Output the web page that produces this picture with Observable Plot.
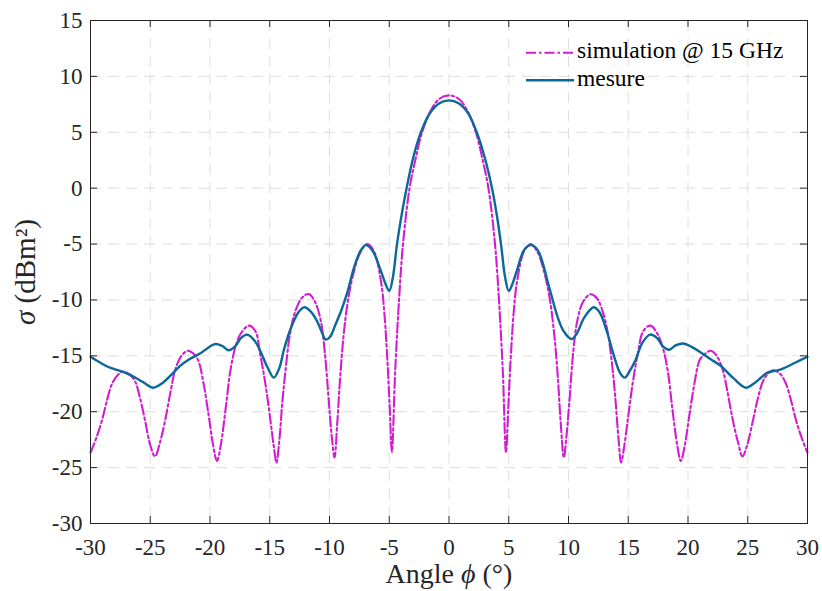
<!DOCTYPE html>
<html>
<head>
<meta charset="utf-8">
<script src="https://cdn.jsdelivr.net/npm/d3@7"></script>
<script src="https://cdn.jsdelivr.net/npm/@observablehq/plot@0.6"></script>
<style>
  html, body { margin: 0; padding: 0; background: #fff; }
  #wrap { position: relative; width: 822px; height: 591px; }
  #legend { position: absolute; left: 0; top: 0; pointer-events: none; }
</style>
</head>
<body>
<div id="wrap"></div>
<script>
// ---- data ----
const xTicks = [-30, -25, -20, -15, -10, -5, 0, 5, 10, 15, 20, 25, 30];
const yTicks = [-30, -25, -20, -15, -10, -5, 0, 5, 10, 15];

const seriesNames = ["simulation @ 15 GHz", "mesure"];

const simAngle = [-30,-29.5,-29.05,-28.6,-28.2,-27.7,-27.25,-26.7,-26.26,-25.85,-25.43,-25.0,-24.6,-24.2,-23.76,-23.3,-22.92,-22.4,-21.85,-21.3,-20.97,-20.55,-20.13,-19.75,-19.42,-19.1,-18.7,-18.29,-17.9,-17.45,-16.75,-16.2,-15.8,-15.35,-14.94,-14.65,-14.44,-14.2,-13.95,-13.68,-13.3,-12.85,-12.3,-11.73,-11.2,-10.73,-10.4,-10.04,-9.8,-9.58,-9.35,-9.1,-8.78,-8.4,-7.94,-7.4,-6.85,-6.3,-5.7,-5.4,-5.14,-4.95,-4.78,-4.5,-4.17,-3.85,-3.3,-2.8,-2.25,-1.5,-0.8,0,
  0.8,1.5,2.25,2.8,3.3,3.85,4.17,4.5,4.77,4.95,5.14,5.4,5.7,6.3,6.85,7.4,7.94,8.4,8.78,9.1,9.35,9.61,9.82,10.06,10.4,10.73,11.2,11.81,12.35,12.85,13.3,13.7,13.95,14.2,14.4,14.65,14.95,15.35,15.8,16.25,16.85,17.45,17.9,18.3,18.7,19.1,19.4,19.75,20.13,20.55,20.97,21.4,21.9,22.4,22.92,23.3,23.76,24.2,24.55,24.95,25.43,25.85,26.3,26.7,27.1,27.7,28.2,28.6,29.05,29.5,30];
const simValue = [-23.65,-22.3,-20.8,-18.9,-17.5,-16.7,-16.4,-16.7,-17.3,-18.8,-20.8,-23.0,-24.0,-22.8,-20.8,-18.2,-16.3,-15.0,-14.55,-14.9,-15.44,-17.4,-20.2,-22.9,-24.4,-23.0,-19.8,-16.3,-14.3,-13.05,-12.3,-12.8,-14.84,-17.6,-20.8,-23.2,-24.55,-22.6,-19.2,-16.3,-13.0,-10.97,-9.8,-9.47,-10.2,-11.86,-14.6,-19.3,-22.3,-24.1,-21.0,-16.8,-12.75,-9.7,-7.38,-5.7,-5.0,-5.6,-8.28,-11.3,-15.7,-19.9,-23.6,-16.3,-9.8,-5.0,0,2.6,5.0,7.0,8.0,8.3,
  8.0,7.0,5.0,2.6,0,-5.0,-9.8,-16.3,-23.65,-19.9,-15.7,-11.3,-8.3,-5.6,-5.0,-5.7,-7.4,-9.7,-12.8,-16.8,-21.0,-24.1,-22.3,-19.3,-14.6,-11.9,-10.2,-9.5,-9.8,-11.0,-13.0,-16.3,-19.2,-22.6,-24.55,-23.2,-20.8,-17.6,-14.8,-12.8,-12.3,-13.05,-14.3,-16.3,-19.8,-23.0,-24.4,-22.9,-20.2,-17.4,-15.4,-14.85,-14.55,-15.0,-16.3,-18.2,-20.8,-22.8,-24.0,-23.0,-20.8,-18.8,-17.2,-16.6,-16.3,-16.6,-17.5,-18.9,-20.8,-22.3,-23.65];

const mesAngle = [-30,-29.2,-28.5,-27.4,-26.6,-25.6,-24.75,-24.0,-23.2,-22.5,-21.8,-20.7,-19.6,-19.0,-18.45,-17.9,-17.4,-16.9,-16.3,-15.8,-15.2,-14.66,-14.2,-13.8,-13.26,-12.6,-12.1,-11.6,-11.04,-10.6,-10.3,-9.95,-9.5,-9.0,-8.5,-7.95,-7.4,-6.96,-6.4,-5.7,-5.3,-5.0,-4.7,-4.35,-3.95,-3.55,-3.0,-2.35,-1.6,-0.8,0,
  0.8,1.6,2.32,3.0,3.6,4.0,4.35,4.7,5.0,5.3,5.7,6.3,6.85,7.4,7.9,8.24,8.6,9.08,9.6,10.25,10.7,11.3,12.1,12.6,13.26,13.8,14.3,14.71,15.1,15.6,16.2,16.83,17.4,17.9,18.42,19.0,19.62,20.3,21.07,21.9,22.74,23.8,24.83,25.6,26.65,27.5,28.04,29.0,30];
const mesValue = [-15.08,-15.6,-16.0,-16.4,-16.75,-17.35,-17.85,-17.45,-16.65,-15.9,-15.35,-14.7,-13.95,-14.1,-14.5,-14.15,-13.4,-13.1,-13.6,-14.55,-16.0,-16.95,-16.1,-14.4,-12.6,-11.1,-10.65,-11.0,-11.9,-13.0,-13.55,-13.3,-12.2,-10.9,-9.3,-7.1,-5.6,-5.1,-5.6,-7.4,-8.6,-9.2,-8.0,-5.0,-2.3,0,2.7,5.0,6.7,7.6,7.85,
  7.6,6.7,5.0,2.7,0,-2.4,-5.0,-8.0,-9.2,-8.6,-7.3,-5.5,-5.1,-5.5,-6.9,-8.3,-9.7,-11.5,-12.8,-13.5,-13.0,-11.6,-10.65,-11.1,-13.0,-15.0,-16.5,-16.95,-16.4,-15.4,-13.8,-13.1,-13.4,-14.15,-14.45,-14.05,-13.9,-14.2,-14.7,-15.3,-15.9,-17.0,-17.85,-17.4,-16.5,-16.3,-16.1,-15.6,-15.08];

// ---- tables built from the arrays ----
const sim = simAngle.map((a, i) => ({angle: a, value: simValue[i]}));
const mes = mesAngle.map((a, i) => ({angle: a, value: mesValue[i]}));

const W = 822, H = 591;
const mL = 90, mR = 15, mT = 20, mB = 68;
const plotW = W - mL - mR, plotH = H - mT - mB;
const tickLen = 7;
const axisColor = "#262626";
const gridColor = "#dedede";
const simColor = "#d21cd2";
const mesColor = "#0b6898";
const simDash = "10,3,2.5,3";
const serif = "'Liberation Serif', 'DejaVu Serif', serif";

const chart = Plot.plot({
  width: W,
  height: H,
  marginLeft: mL,
  marginRight: mR,
  marginTop: mT,
  marginBottom: mB,
  style: {fontFamily: serif, fontSize: "23px", color: axisColor, background: "#fff", overflow: "visible"},
  x: {domain: [-30, 30], label: null},
  y: {domain: [-30, 15], label: null},
  marks: [
    Plot.gridX(xTicks, {stroke: gridColor, strokeOpacity: 1, strokeWidth: 1, strokeDasharray: "11,7"}),
    Plot.gridY(yTicks, {stroke: gridColor, strokeOpacity: 1, strokeWidth: 1, strokeDasharray: "11,7"}),
    Plot.line(sim, {x: "angle", y: "value", stroke: simColor, strokeWidth: 2.1, strokeDasharray: simDash, curve: "catmull-rom"}),
    Plot.line(mes, {x: "angle", y: "value", stroke: mesColor, strokeWidth: 2.4, curve: "catmull-rom"}),
    // inward ticks on all four sides
    Plot.tickX(xTicks, {x: d => d, stroke: axisColor, insetTop: plotH - tickLen}),
    Plot.tickX(xTicks, {x: d => d, stroke: axisColor, insetBottom: plotH - tickLen}),
    Plot.tickY(yTicks, {y: d => d, stroke: axisColor, insetRight: plotW - tickLen}),
    Plot.tickY(yTicks, {y: d => d, stroke: axisColor, insetLeft: plotW - tickLen}),
    Plot.frame({stroke: axisColor, strokeWidth: 1}),
    Plot.axisX(xTicks, {tickSize: 0, tickPadding: 15, label: null, tickFormat: d => String(d), fill: axisColor, fontSize: 23}),
    Plot.axisY(yTicks, {tickSize: 0, tickPadding: 8, label: null, tickFormat: d => String(d), fill: axisColor, fontSize: 23}),
    Plot.text(["Angle ϕ (°)"], {frameAnchor: "bottom", dy: 51, lineAnchor: "middle", fontSize: 28, fill: axisColor}),
    Plot.text(["σ (dBm²)"], {frameAnchor: "left", dx: -65, rotate: -90, lineAnchor: "middle", textAnchor: "middle", fontSize: 29, fill: axisColor})
  ]
});

// italic math symbols in axis labels
chart.querySelectorAll("text").forEach(t => {
  if (t.textContent === "Angle ϕ (°)") {
    t.innerHTML = 'Angle <tspan font-style="italic">ϕ</tspan> (°)';
  } else if (t.textContent === "σ (dBm²)") {
    t.innerHTML = '<tspan font-style="italic">σ</tspan> (dBm²)';
  }
});

const wrap = document.getElementById("wrap");
wrap.appendChild(chart);

// legend (inside the axes, top right)
const legend = d3.select(wrap).append("svg")
  .attr("id", "legend").attr("width", W).attr("height", H);
const legendRows = [
  {name: seriesNames[0], color: simColor, dash: simDash, width: 2.1},
  {name: seriesNames[1], color: mesColor, dash: null, width: 2.4}
];
legendRows.forEach((r, i) => {
  const cy = 52.7 + i * 27.6;
  legend.append("line")
    .attr("x1", 526).attr("x2", 574).attr("y1", cy).attr("y2", cy)
    .attr("stroke", r.color).attr("stroke-width", r.width)
    .attr("stroke-dasharray", r.dash);
  legend.append("text")
    .attr("x", 577).attr("y", cy + 5.5)
    .attr("font-family", serif).attr("font-size", 23.5).attr("fill", "#000")
    .text(r.name);
});
</script>
</body>
</html>
